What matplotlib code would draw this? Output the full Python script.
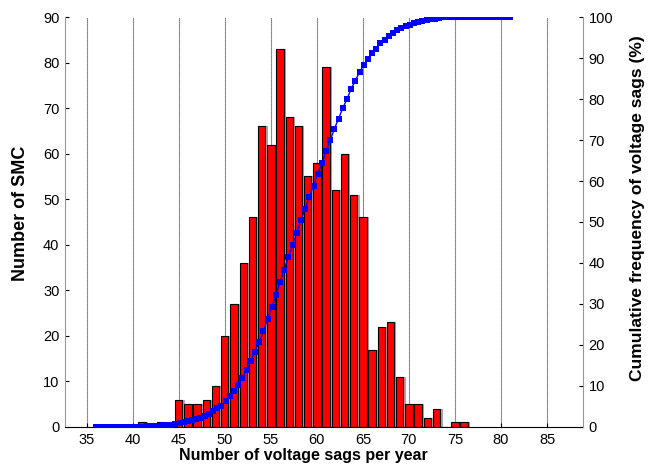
import matplotlib
matplotlib.use("Agg")
import matplotlib.pyplot as plt

plt.rcParams['font.family'] = ['Liberation Sans', 'DejaVu Sans']

# histogram: number of SMC per yearly sag count
sags_per_year = [41, 42, 43, 44, 45, 46, 47, 48, 49, 50, 51, 52, 53, 54, 55, 56, 57, 58,
                 59, 60, 61, 62, 63, 64, 65, 66, 67, 68, 69, 70, 71, 72, 73, 74, 75, 76]
smc_count = [1, 0, 1, 0, 6, 5, 5, 6, 9, 20, 27, 36, 46, 66, 62, 83, 68, 66,
             55, 58, 79, 52, 60, 51, 46, 17, 22, 23, 11, 5, 5, 2, 4, 0, 1, 1]

# cumulative frequency curve (%)
cum_x = [36.00, 36.45, 36.91, 37.36, 37.82, 38.27, 38.73, 39.18, 39.64, 40.09,
         40.55, 41.00, 41.45, 41.91, 42.36, 42.82, 43.27, 43.73, 44.18, 44.64,
         45.09, 45.55, 46.00, 46.45, 46.91, 47.36, 47.82, 48.27, 48.73, 49.18,
         49.64, 50.09, 50.55, 51.00, 51.45, 51.91, 52.36, 52.82, 53.27, 53.73,
         54.18, 54.64, 55.09, 55.55, 56.00, 56.45, 56.91, 57.36, 57.82, 58.27,
         58.73, 59.18, 59.64, 60.09, 60.55, 61.00, 61.45, 61.91, 62.36, 62.82,
         63.27, 63.73, 64.18, 64.64, 65.09, 65.55, 66.00, 66.45, 66.91, 67.36,
         67.82, 68.27, 68.73, 69.18, 69.64, 70.09, 70.55, 71.00, 71.45, 71.91,
         72.36, 72.82, 73.27, 73.73, 74.18, 74.64, 75.09, 75.55, 76.00, 76.45,
         76.91, 77.36, 77.82, 78.27, 78.73, 79.18, 79.64, 80.09, 80.55, 81.00]
cum_pct = [0, 0, 0, 0, 0, 0, 0, 0.1, 0.1, 0.1,
           0.1, 0.1, 0.2, 0.2, 0.2, 0.3, 0.4, 0.5, 0.6, 0.8,
           1.0, 1.1, 1.4, 1.6, 1.9, 2.2, 2.7, 3.2, 3.8, 4.6,
           5.2, 6.4, 7.5, 8.8, 10.3, 12.0, 13.9, 16.1, 18.4, 20.7,
           23.3, 26.3, 29.2, 32.1, 35.4, 38.3, 41.5, 44.4, 47.4, 50.4,
           53.2, 56.2, 58.9, 61.8, 64.3, 67.2, 69.9, 72.8, 75.2, 77.8,
           80.0, 82.5, 84.5, 86.6, 88.3, 89.8, 91.2, 92.3, 93.6, 94.5,
           95.4, 96.2, 96.8, 97.3, 97.8, 98.1, 98.5, 98.8, 99.1, 99.3,
           99.5, 99.6, 99.8, 99.9, 100, 100, 100, 100, 100, 100,
           100, 100, 100, 100, 100, 100, 100, 100, 100, 100]

x_ticks = [35, 40, 45, 50, 55, 60, 65, 70, 75, 80, 85]

fig = plt.figure(figsize=(6.57, 4.74), dpi=100)
ax = fig.add_axes([0.0989, 0.0992, 0.7885, 0.8649])

# vertical dotted grid
for xt in x_ticks:
    ax.axvline(xt, color='0.2', linestyle=(0, (1, 0.8)), linewidth=0.8, zorder=0)

# bars with a thin grey shadow on the right
ax.bar([v + 0.14 for v in sags_per_year], smc_count, width=0.8,
       color='0.65', edgecolor='0.65', linewidth=0.8, zorder=1)
ax.bar(sags_per_year, smc_count, width=0.8, color='#ff0000',
       edgecolor='black', linewidth=0.8, zorder=2)

ax.set_xlim(32.64, 88.91)
ax.set_ylim(0, 90)
ax.set_xticks(x_ticks)
ax.set_yticks(range(0, 91, 10))
ax.tick_params(direction='in', length=3, labelsize=10.5, pad=4, colors='black')
ax.tick_params(axis='x', top=False)
for s in ['top', 'right']:
    ax.spines[s].set_visible(False)
ax.spines['left'].set_color('0.6')
ax.spines['bottom'].set_color('black')

ax.set_xlabel('Number of voltage sags per year', fontsize=11.5, fontweight='bold')
ax.xaxis.set_label_coords(0.46, -0.052)
ax.set_ylabel('Number of SMC', fontsize=13, fontweight='bold')
ax.yaxis.set_label_coords(-0.07, 0.52)

ax2 = ax.twinx()
ax2.plot(cum_x, cum_pct, color='#0000ff', linewidth=1, marker='s',
         markersize=5, markeredgewidth=0, zorder=3)
ax2.set_ylim(0, 100)
ax2.set_yticks(range(0, 101, 10))
ax2.tick_params(direction='in', length=3, labelsize=10.5, pad=4)
for s in ['top', 'left', 'bottom']:
    ax2.spines[s].set_visible(False)
ax2.spines['right'].set_color('0.6')
ax2.spines['right'].set_linestyle((0, (1, 1)))
ax2.set_ylabel('Cumulative frequency of voltage sags (%)', fontsize=12.5,
               fontweight='bold')
ax2.yaxis.set_label_coords(1.09, 0.535)

fig.savefig('out.png', dpi=100)
